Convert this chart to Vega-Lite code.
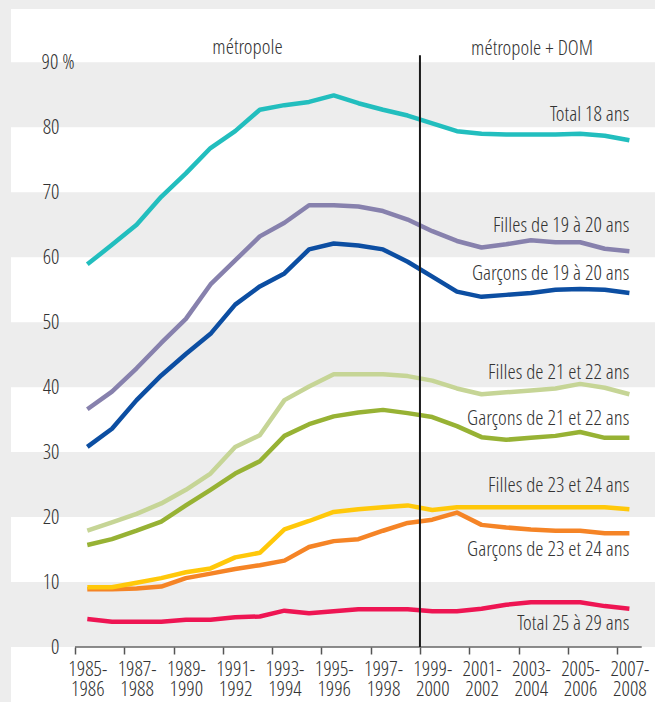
{
  "$schema": "https://vega.github.io/schema/vega-lite/v6.json",
  "width": 644,
  "height": 693,
  "padding": {"left": 11, "top": 9, "right": 0, "bottom": 0},
  "autosize": {"type": "none"},
  "background": "#ededed",
  "config": {
    "view": {"fill": "white", "stroke": null},
    "font": "Open Sans Condensed Light, Noto Sans Condensed, Roboto Condensed, Liberation Sans Narrow, DejaVu Sans Condensed, sans-serif"
  },
  "datasets": {
    "bands": [
      {"lo": 0, "hi": 10}, {"lo": 20, "hi": 30}, {"lo": 40, "hi": 50}, {"lo": 60, "hi": 70}, {"lo": 80, "hi": 90}
    ],
    "series": [
      {"s":"t18","a":1985,"v":58.9},{"s":"t18","a":1986,"v":61.9},{"s":"t18","a":1987,"v":65.0},{"s":"t18","a":1988,"v":69.3},{"s":"t18","a":1989,"v":72.9},{"s":"t18","a":1990,"v":76.8},{"s":"t18","a":1991,"v":79.4},{"s":"t18","a":1992,"v":82.7},{"s":"t18","a":1993,"v":83.4},{"s":"t18","a":1994,"v":83.9},{"s":"t18","a":1995,"v":84.9},{"s":"t18","a":1996,"v":83.7},{"s":"t18","a":1997,"v":82.7},{"s":"t18","a":1998,"v":81.8},{"s":"t18","a":1999,"v":80.6},{"s":"t18","a":2000,"v":79.4},{"s":"t18","a":2001,"v":79.0},{"s":"t18","a":2002,"v":78.9},{"s":"t18","a":2003,"v":78.9},{"s":"t18","a":2004,"v":78.9},{"s":"t18","a":2005,"v":79.0},{"s":"t18","a":2006,"v":78.7},{"s":"t18","a":2007,"v":78.0},
      {"s":"f19","a":1985,"v":36.6},{"s":"f19","a":1986,"v":39.3},{"s":"f19","a":1987,"v":42.9},{"s":"f19","a":1988,"v":46.8},{"s":"f19","a":1989,"v":50.5},{"s":"f19","a":1990,"v":55.8},{"s":"f19","a":1991,"v":59.5},{"s":"f19","a":1992,"v":63.2},{"s":"f19","a":1993,"v":65.3},{"s":"f19","a":1994,"v":68.0},{"s":"f19","a":1995,"v":68.0},{"s":"f19","a":1996,"v":67.8},{"s":"f19","a":1997,"v":67.1},{"s":"f19","a":1998,"v":65.8},{"s":"f19","a":1999,"v":64.0},{"s":"f19","a":2000,"v":62.5},{"s":"f19","a":2001,"v":61.5},{"s":"f19","a":2002,"v":62.0},{"s":"f19","a":2003,"v":62.6},{"s":"f19","a":2004,"v":62.3},{"s":"f19","a":2005,"v":62.3},{"s":"f19","a":2006,"v":61.3},{"s":"f19","a":2007,"v":60.9},
      {"s":"g19","a":1985,"v":30.8},{"s":"g19","a":1986,"v":33.6},{"s":"g19","a":1987,"v":38.0},{"s":"g19","a":1988,"v":41.8},{"s":"g19","a":1989,"v":45.1},{"s":"g19","a":1990,"v":48.2},{"s":"g19","a":1991,"v":52.7},{"s":"g19","a":1992,"v":55.5},{"s":"g19","a":1993,"v":57.5},{"s":"g19","a":1994,"v":61.2},{"s":"g19","a":1995,"v":62.1},{"s":"g19","a":1996,"v":61.8},{"s":"g19","a":1997,"v":61.2},{"s":"g19","a":1998,"v":59.3},{"s":"g19","a":1999,"v":57.0},{"s":"g19","a":2000,"v":54.7},{"s":"g19","a":2001,"v":53.9},{"s":"g19","a":2002,"v":54.2},{"s":"g19","a":2003,"v":54.5},{"s":"g19","a":2004,"v":55.0},{"s":"g19","a":2005,"v":55.1},{"s":"g19","a":2006,"v":55.0},{"s":"g19","a":2007,"v":54.5},
      {"s":"f21","a":1985,"v":17.9},{"s":"f21","a":1986,"v":19.2},{"s":"f21","a":1987,"v":20.5},{"s":"f21","a":1988,"v":22.1},{"s":"f21","a":1989,"v":24.2},{"s":"f21","a":1990,"v":26.7},{"s":"f21","a":1991,"v":30.8},{"s":"f21","a":1992,"v":32.6},{"s":"f21","a":1993,"v":38.0},{"s":"f21","a":1994,"v":40.1},{"s":"f21","a":1995,"v":42.0},{"s":"f21","a":1996,"v":42.0},{"s":"f21","a":1997,"v":42.0},{"s":"f21","a":1998,"v":41.7},{"s":"f21","a":1999,"v":41.0},{"s":"f21","a":2000,"v":39.8},{"s":"f21","a":2001,"v":38.9},{"s":"f21","a":2002,"v":39.2},{"s":"f21","a":2003,"v":39.5},{"s":"f21","a":2004,"v":39.8},{"s":"f21","a":2005,"v":40.5},{"s":"f21","a":2006,"v":39.9},{"s":"f21","a":2007,"v":38.9},
      {"s":"g21","a":1985,"v":15.7},{"s":"g21","a":1986,"v":16.6},{"s":"g21","a":1987,"v":17.9},{"s":"g21","a":1988,"v":19.3},{"s":"g21","a":1989,"v":21.8},{"s":"g21","a":1990,"v":24.2},{"s":"g21","a":1991,"v":26.7},{"s":"g21","a":1992,"v":28.6},{"s":"g21","a":1993,"v":32.5},{"s":"g21","a":1994,"v":34.3},{"s":"g21","a":1995,"v":35.5},{"s":"g21","a":1996,"v":36.1},{"s":"g21","a":1997,"v":36.5},{"s":"g21","a":1998,"v":36.0},{"s":"g21","a":1999,"v":35.4},{"s":"g21","a":2000,"v":34.0},{"s":"g21","a":2001,"v":32.3},{"s":"g21","a":2002,"v":31.9},{"s":"g21","a":2003,"v":32.2},{"s":"g21","a":2004,"v":32.5},{"s":"g21","a":2005,"v":33.1},{"s":"g21","a":2006,"v":32.2},{"s":"g21","a":2007,"v":32.2},
      {"s":"g23","a":1985,"v":8.9},{"s":"g23","a":1986,"v":8.9},{"s":"g23","a":1987,"v":9.0},{"s":"g23","a":1988,"v":9.3},{"s":"g23","a":1989,"v":10.6},{"s":"g23","a":1990,"v":11.3},{"s":"g23","a":1991,"v":12.0},{"s":"g23","a":1992,"v":12.6},{"s":"g23","a":1993,"v":13.3},{"s":"g23","a":1994,"v":15.4},{"s":"g23","a":1995,"v":16.3},{"s":"g23","a":1996,"v":16.6},{"s":"g23","a":1997,"v":17.9},{"s":"g23","a":1998,"v":19.1},{"s":"g23","a":1999,"v":19.6},{"s":"g23","a":2000,"v":20.7},{"s":"g23","a":2001,"v":18.8},{"s":"g23","a":2002,"v":18.4},{"s":"g23","a":2003,"v":18.1},{"s":"g23","a":2004,"v":17.9},{"s":"g23","a":2005,"v":17.9},{"s":"g23","a":2006,"v":17.5},{"s":"g23","a":2007,"v":17.5},
      {"s":"f23","a":1985,"v":9.2},{"s":"f23","a":1986,"v":9.2},{"s":"f23","a":1987,"v":9.9},{"s":"f23","a":1988,"v":10.6},{"s":"f23","a":1989,"v":11.5},{"s":"f23","a":1990,"v":12.1},{"s":"f23","a":1991,"v":13.8},{"s":"f23","a":1992,"v":14.5},{"s":"f23","a":1993,"v":18.1},{"s":"f23","a":1994,"v":19.4},{"s":"f23","a":1995,"v":20.8},{"s":"f23","a":1996,"v":21.2},{"s":"f23","a":1997,"v":21.5},{"s":"f23","a":1998,"v":21.8},{"s":"f23","a":1999,"v":21.1},{"s":"f23","a":2000,"v":21.5},{"s":"f23","a":2001,"v":21.5},{"s":"f23","a":2002,"v":21.5},{"s":"f23","a":2003,"v":21.5},{"s":"f23","a":2004,"v":21.5},{"s":"f23","a":2005,"v":21.5},{"s":"f23","a":2006,"v":21.5},{"s":"f23","a":2007,"v":21.2},
      {"s":"t25","a":1985,"v":4.3},{"s":"t25","a":1986,"v":3.9},{"s":"t25","a":1987,"v":3.9},{"s":"t25","a":1988,"v":3.9},{"s":"t25","a":1989,"v":4.2},{"s":"t25","a":1990,"v":4.2},{"s":"t25","a":1991,"v":4.6},{"s":"t25","a":1992,"v":4.7},{"s":"t25","a":1993,"v":5.6},{"s":"t25","a":1994,"v":5.2},{"s":"t25","a":1995,"v":5.5},{"s":"t25","a":1996,"v":5.8},{"s":"t25","a":1997,"v":5.8},{"s":"t25","a":1998,"v":5.8},{"s":"t25","a":1999,"v":5.5},{"s":"t25","a":2000,"v":5.5},{"s":"t25","a":2001,"v":5.9},{"s":"t25","a":2002,"v":6.5},{"s":"t25","a":2003,"v":6.9},{"s":"t25","a":2004,"v":6.9},{"s":"t25","a":2005,"v":6.9},{"s":"t25","a":2006,"v":6.3},{"s":"t25","a":2007,"v":5.9}
    ],
    "labels": [
      {"t": "Total 18 ans", "x": 2007, "y": 81.0},
      {"t": "Filles de 19 à 20 ans", "x": 2007, "y": 63.9},
      {"t": "Garçons de 19 à 20 ans", "x": 2007, "y": 56.5},
      {"t": "Filles de 21 et 22 ans", "x": 2007, "y": 41.2},
      {"t": "Garçons de 21 et 22 ans", "x": 2007, "y": 34.1},
      {"t": "Filles de 23 et 24 ans", "x": 2007, "y": 23.9},
      {"t": "Garçons de 23 et 24 ans", "x": 2007, "y": 14.0},
      {"t": "Total  25 à 29 ans", "x": 2007, "y": 2.6}
    ],
    "headers": [
      {"t": "métropole", "x": 1991.5, "y": 91.2},
      {"t": "métropole + DOM", "x": 2003.05, "y": 91.1}
    ],
    "split": [{"x": 1998.5, "y": 0, "y2": 91.1}],
    "base": [{"x": 1984.5, "x2": 2007.5, "y": 0}]
  },
  "layer": [
    {
      "data": {"name": "bands"},
      "mark": {"type": "rect", "fill": "#ededed"},
      "encoding": {
        "y": {"field": "lo", "type": "quantitative", "title": null, "scale": {"domain": [-8.46, 98.2], "nice": false, "zero": false},
          "axis": {"values": [0,10,20,30,40,50,60,70,80,90], "title": null, "domain": false, "ticks": false, "tickSize": 0, "grid": false, "offset": -50, "zindex": 1,
            "labelExpr": "datum.value == 90 ? '90 %' : datum.label",
            "labelAlign": {"condition": {"test": "datum.value == 90", "value": "left"}, "value": "right"},
            "labelPadding": {"condition": {"test": "datum.value == 90", "value": 20}, "value": 2},
            "labelFontSize": 21, "labelFontWeight": 300, "labelColor": "#333333", "labelBaseline": "middle"}},
        "y2": {"field": "hi"}
      }
    },
    {
      "data": {"name": "series"},
      "mark": {"type": "line", "strokeWidth": 4.5, "strokeJoin": "round"},
      "encoding": {
        "x": {"field": "a", "type": "quantitative", "title": null, "scale": {"domain": [1981.903, 2008.039], "nice": false, "zero": false},
          "axis": {"values": [1984.5,1985.5,1986.5,1987.5,1988.5,1989.5,1990.5,1991.5,1992.5,1993.5,1994.5,1995.5,1996.5,1997.5,1998.5,1999.5,2000.5,2001.5,2002.5,2003.5,2004.5,2005.5,2006.5,2007.5],
            "title": null, "domain": false, "grid": false, "offset": -55, "zindex": 1,
            "tickSize": 7, "tickColor": "#555555", "tickWidth": 1.5,
            "labelExpr": "(datum.value + 0.5) % 2 == 1 ? [(datum.value + 0.5) + '-', (datum.value + 1.5) + ''] : ''",
            "labelOffset": 12.32, "labelPadding": 4, "labelLineHeight": 20, "labelBaseline": "top",
            "labelFontSize": 21, "labelFontWeight": 300, "labelColor": "#333333",
            "labelOverlap": false, "labelFlush": false, "labelBound": false}},
        "y": {"field": "v", "type": "quantitative", "title": null, "scale": {"domain": [-8.46, 98.2], "nice": false, "zero": false}},
        "color": {"field": "s", "type": "nominal", "legend": null,
          "scale": {"domain": ["t18","f19","g19","f21","g21","g23","f23","t25"],
            "range": ["#22bebe","#8781ad","#0c4ea2","#c6d596","#97b234","#f58426","#ffc80a","#ee1553"]}}
      }
    },
    {
      "data": {"name": "base"},
      "mark": {"type": "rule", "stroke": "#666666", "strokeWidth": 1.5},
      "encoding": {
        "x": {"field": "x", "type": "quantitative", "title": null, "scale": {"domain": [1981.903, 2008.039], "nice": false, "zero": false}},
        "x2": {"field": "x2"},
        "y": {"field": "y", "type": "quantitative", "title": null, "scale": {"domain": [-8.46, 98.2], "nice": false, "zero": false}}
      }
    },
    {
      "data": {"name": "split"},
      "mark": {"type": "rule", "stroke": "#1a1a1a", "strokeWidth": 2},
      "encoding": {
        "x": {"field": "x", "type": "quantitative", "title": null, "scale": {"domain": [1981.903, 2008.039], "nice": false, "zero": false}},
        "y": {"field": "y", "type": "quantitative", "title": null, "scale": {"domain": [-8.46, 98.2], "nice": false, "zero": false}},
        "y2": {"field": "y2"}
      }
    },
    {
      "data": {"name": "labels"},
      "mark": {"type": "text", "align": "right", "baseline": "alphabetic", "fontSize": 21, "fontWeight": 300, "color": "#333333"},
      "encoding": {
        "x": {"field": "x", "type": "quantitative", "title": null, "scale": {"domain": [1981.903, 2008.039], "nice": false, "zero": false}},
        "y": {"field": "y", "type": "quantitative", "title": null, "scale": {"domain": [-8.46, 98.2], "nice": false, "zero": false}},
        "text": {"field": "t"}
      }
    },
    {
      "data": {"name": "headers"},
      "mark": {"type": "text", "align": "center", "baseline": "alphabetic", "fontSize": 21, "fontWeight": 300, "color": "#333333"},
      "encoding": {
        "x": {"field": "x", "type": "quantitative", "title": null, "scale": {"domain": [1981.903, 2008.039], "nice": false, "zero": false}},
        "y": {"field": "y", "type": "quantitative", "title": null, "scale": {"domain": [-8.46, 98.2], "nice": false, "zero": false}},
        "text": {"field": "t"}
      }
    }
  ]
}
